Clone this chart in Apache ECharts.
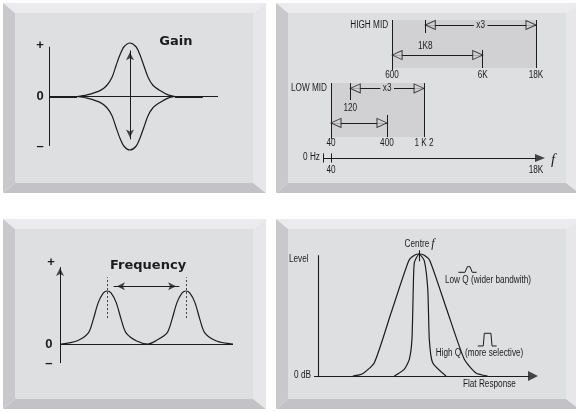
<!DOCTYPE html>
<html><head><meta charset="utf-8">
<script src="https://cdn.jsdelivr.net/npm/echarts@6/dist/echarts.min.js"></script>
<style>html,body{margin:0;padding:0;background:#fff}#c{width:576px;height:412px}</style>
</head><body><div id="c"></div>
<script>
// ---------- Panel 1: Gain (x: frequency units 0-10, y: gain -1..1) ----------
const gainX = [1.66,2.25,3.02,3.43,3.73,3.96,4.20,4.44,4.79,5.15,5.38,5.62,5.86,6.15,6.57,7.04,7.46];
const gainBoost = [0,0.03,0.11,0.21,0.36,0.57,0.78,0.93,1.0,0.93,0.78,0.57,0.36,0.21,0.11,0.03,0];
const gainCentre = 4.79;
const gainSigns = ['+', '0', '–'];
const gainSignLevels = [0.96, 0, -0.94];

// ---------- Panel 2: frequency bands (schematic positions 0-100) ----------
const freqLabels = ['40', '120', '400', '600', '1 K 2', '1K8', '6K', '18K'];
const freqPos = [0, 9.4, 27.3, 29.8, 45.4, 46.0, 74.0, 100];
const bandNames = ['LOW MID', 'HIGH MID'];
const bandStart = ['40', '600'];
const bandTenth = ['400', '6K'];
const bandTriple = ['120', '1K8'];
const bandEnd = ['1 K 2', '18K'];
const bandTop = [54.3, 100];
const bandBottom = [15.2, 65.2];
const bandTripleRow = [50.4, 96.4];
const bandTenthRow = [25.4, 74.6];
const bandTripleTickEnd = [42.0, 90.6];
const bandTenthTickStart = [31.2, 78.3];
const bandTripleLabelRow = [36.2, 81.2];
const bandLabelRow = [10.9, 60.1];
const axisLabels = ['0 Hz', '40', '18K'];

// ---------- Panel 3: Frequency sweep (x 0-10, y level 0-1) ----------
const sweepX = [0.06,0.97,1.64,1.92,2.21,2.50,2.73,2.96,3.25,3.54,3.82,4.43,5.10,5.52,6.19,6.47,6.76,7.05,7.28,7.51,7.80,8.09,8.37,9.04,10.0];
const sweepLevel = [0,0.057,0.21,0.46,0.78,0.96,1.0,0.96,0.78,0.46,0.21,0.057,0,0.057,0.21,0.46,0.78,0.96,1.0,0.96,0.78,0.46,0.21,0.057,0];
const sweepPeaks = [2.73, 7.28];

// ---------- Panel 4: Q (x 0-10, y level 0-1) ----------
const lowQX = [1.58,2.03,2.56,3.32,4.12,4.38,4.60,4.83,5.09,5.86,6.65,7.18,7.71];
const lowQY = [0,0.019,0.109,0.516,0.943,0.989,1.0,0.989,0.943,0.541,0.137,0.025,0];
const highQX = [3.47,3.92,4.15,4.27,4.33,4.38,4.60,4.83,4.99,5.06,5.21,5.82];
const highQY = [0,0.055,0.137,0.30,0.71,0.93,1.0,0.945,0.71,0.30,0.109,0];
const lowIconX = [6.38,6.68,6.79,6.91,7.01,7.21];
const lowIconY = [0.85,0.85,0.896,0.896,0.85,0.85];
const highIconX = [7.26,7.51,7.56,7.86,7.91,8.12];
const highIconY = [0.246,0.246,0.35,0.35,0.246,0.246];
const qCentre = 4.6;

// ---------- helpers ----------
const INK = '#1c1c1c';
const NARROW = '10px "Liberation Sans", Arial, sans-serif';
const SHADE = '#d1d1d4';
const pos = l => freqPos[freqLabels.indexOf(l)];

function segs(g, list, width, extra) {
  return {type:'lines', coordinateSystem:'cartesian2d', xAxisIndex:g, yAxisIndex:g, polyline:false,
    silent:true, clip:false, z:3,
    lineStyle:Object.assign({color:INK, width:width, opacity:1, curveness:0}, extra || {}),
    data:list.map(c => ({coords:c}))};
}
function curve(g, xs, ys, width, smooth) {
  return {type:'line', xAxisIndex:g, yAxisIndex:g, data:xs.map((x,i) => [x, ys[i]]),
    showSymbol:false, symbol:'none', smooth:smooth, clip:false, silent:true, z:4,
    lineStyle:{color:INK, width:width}};
}
function heads(g, list, symbol, size, fill, border) {
  const rot = {up:0, left:90, down:180, right:-90};
  const h = size[1] / 2;
  const off = {up:[0,h], down:[0,-h], left:[h,0], right:[-h,0]};
  return {type:'scatter', xAxisIndex:g, yAxisIndex:g, silent:true, clip:false, z:5,
    data:list.map(a => ({value:[a[0], a[1]], symbol:symbol, symbolSize:size,
      symbolRotate:rot[a[2]], symbolOffset:off[a[2]]})),
    itemStyle:{color:fill, borderColor:border || fill, borderWidth:border ? 1 : 0}};
}
// text marks placed through the axes; narrow text is condensed horizontally
function texts(g, list, opt) {
  opt = opt || {};
  return {type:'custom', coordinateSystem:'cartesian2d', xAxisIndex:g, yAxisIndex:g, silent:true, z:6,
    data:list.map(t => [t[1], t[2]]),
    renderItem:function (params, api) {
      const p = api.coord([api.value(0), api.value(1)]);
      const t = list[params.dataIndex];
      const style = {text:t[0], align:opt.align || 'center', verticalAlign:'middle', fill:INK,
        font:opt.font || NARROW};
      if (opt.bg) { style.backgroundColor = opt.bg; style.padding = [0, 3]; }
      return {type:'text', x:p[0] + (opt.dx || 0), y:p[1], scaleX:opt.scaleX == null ? 0.82 : opt.scaleX, style:style};
    }};
}
function frame(x0, y0, x1, y1) {
  const t = 10, l = 12, b = 10, r = 13;
  return [
    {type:'polygon', z:0, silent:true, shape:{points:[[x0,y0],[x1,y0],[x1-r,y0+t],[x0+l,y0+t]]}, style:{fill:'#ebebed'}},
    {type:'polygon', z:0, silent:true, shape:{points:[[x1,y0],[x1,y1],[x1-r,y1-b],[x1-r,y0+t]]}, style:{fill:'#e7e7e9'}},
    {type:'polygon', z:0, silent:true, shape:{points:[[x0,y1],[x0+l,y1-b],[x1-r,y1-b],[x1,y1]]}, style:{fill:'#c3c3c7'}},
    {type:'polygon', z:0, silent:true, shape:{points:[[x0,y0],[x0+l,y0+t],[x0+l,y1-b],[x0,y1]]}, style:{fill:'#c9c9cd'}},
    {type:'rect', z:0, silent:true, shape:{x:x0+l, y:y0+t, width:x1-r-x0-l, height:y1-b-y0-t}, style:{fill:'#dedfe1'}}
  ];
}
const SIGN = {font:'bold 13px "Liberation Sans", Arial, sans-serif', scaleX:1};
const TITLE = {font:'bold 13px "DejaVu Sans", sans-serif', scaleX:1};

const series = [];

// Panel 1
series.push(curve(0, gainX, gainBoost, 1.2, 0.3));
series.push(curve(0, gainX, gainBoost.map(v => -v), 1.2, 0.3));
series.push(segs(0, [[[0,-0.925],[0,0.93]], [[0,0],[10,0]], [[gainCentre,-0.8],[gainCentre,0.86]]], 1));
series.push(segs(0, [[[0,0],[gainX[0],0]], [[gainX[gainX.length-1],0],[9.1,0]]], 2));
series.push(heads(0, [[gainCentre,0.9,'up'], [gainCentre,-0.84,'down']], 'arrow', [6,8], INK));
series.push(texts(0, gainSigns.map((s,i) => [s, -0.53, gainSignLevels[i]]), SIGN));
series.push(texts(0, [['Gain', 7.51, 1.03]], TITLE));

// Panel 2
const p2segs = [], p2heads = [], p2names = [], p2labels = [], p2x3 = [];
bandNames.forEach((n, b) => {
  const s = pos(bandStart[b]), e = pos(bandEnd[b]), t = pos(bandTenth[b]), tr = pos(bandTriple[b]);
  p2segs.push([[s, bandTop[b]], [s, bandBottom[b] - 1.4]]);
  p2segs.push([[e, bandTop[b]], [e, bandBottom[b]]]);
  p2segs.push([[tr, bandTop[b]], [tr, bandTripleTickEnd[b]]]);
  p2segs.push([[t, bandTenthTickStart[b]], [t, bandBottom[b]]]);
  p2segs.push([[tr, bandTripleRow[b]], [e, bandTripleRow[b]]]);
  p2segs.push([[s, bandTenthRow[b]], [t, bandTenthRow[b]]]);
  p2heads.push([tr, bandTripleRow[b], 'left'], [e, bandTripleRow[b], 'right'],
               [s, bandTenthRow[b], 'left'], [t, bandTenthRow[b], 'right']);
  p2names.push([n, s, bandTripleRow[b]]);
  p2labels.push([bandStart[b], s, bandLabelRow[b]], [bandTenth[b], t, bandLabelRow[b]],
                [bandEnd[b], e, bandLabelRow[b]], [bandTriple[b], tr, bandTripleLabelRow[b]]);
  p2x3.push(['x3', (tr + e) / 2, bandTripleRow[b]]);
});
series.push(Object.assign(segs(1, p2segs, 1), {
  markArea:{silent:true, itemStyle:{color:SHADE},
    data:bandNames.map((n,b) => [{coord:[pos(bandStart[b]), bandTop[b]]}, {coord:[pos(bandEnd[b]), bandBottom[b]]}])}
}));
series.push(heads(1, p2heads, 'triangle', [9,10], SHADE, INK));
series.push(texts(1, p2names, {align:'right', dx:-4}));
series.push(texts(1, p2labels));
series.push(texts(1, p2x3, {bg:SHADE}));
// bottom axis
series.push(segs(1, [[[-3.6,0],[100,0]], [[-3.6,-3.3],[-3.6,3.3]], [[0,-3.3],[0,3.3]]], 1));
series.push(heads(1, [[104.4,0,'right']], 'triangle', [8,10], INK));
series.push(texts(1, [[axisLabels[0], -5.4, 0.9]], {align:'right'}));
series.push(texts(1, [[axisLabels[1], 0, -8.7], [axisLabels[2], 100, -8.7]]));
series.push(texts(1, [['f', 108.3, -1.4]], {font:'italic 15px "Liberation Serif", serif', scaleX:1}));

// Panel 3
series.push(curve(2, sweepX, sweepLevel, 1.2, 0.3));
series.push(segs(2, [[[0,-0.36],[0,1.45]], [[0,0],[10,0]], [[3.1,1.09],[6.9,1.09]]], 1));
series.push(segs(2, sweepPeaks.map(p => [[p,0.49],[p,1.26]]), 0.8, {type:[2,2]}));
series.push(heads(2, [[0,1.51,'up'], [3.06,1.09,'left'], [6.94,1.09,'right']], 'arrow', [6,8], INK));
series.push(texts(2, [['+', -0.52, 1.53], ['0', -0.64, 0], ['–', -0.64, -0.36]], SIGN));
series.push(texts(2, [['Frequency', 5.09, 1.47]], TITLE));

// Panel 4
series.push(curve(3, lowQX, lowQY, 1.2, 0.2));
series.push(curve(3, highQX, highQY, 1.2, 0.2));
series.push(curve(3, lowIconX, lowIconY, 1, false));
series.push(curve(3, highIconX, highIconY, 1, false));
series.push(segs(3, [[[0,0],[0,0.99]], [[-0.18,0],[9.6,0]], [[qCentre,0.94],[qCentre,1.03]]], 1.1));
series.push(heads(3, [[10,0,'right']], 'triangle', [10,10], INK));
series.push(texts(3, [['Level', -1.32, 0.96], ['Low Q (wider bandwith)', 5.77, 0.787], ['High Q', 5.35, 0.189],
  ['(more selective)', 6.68, 0.189], ['Flat Response', 6.59, -0.066]], {align:'left'}));
series.push(texts(3, [['0 dB', -0.32, 0.01]], {align:'right'}));
series.push(texts(3, [['Centre', qCentre, 1.08]], {align:'right', dx:10}));
series.push(texts(3, [['f', qCentre, 1.085]], {font:'italic 12px "Liberation Serif", serif', scaleX:1, align:'left', dx:12}));

const option = {
  backgroundColor:'#ffffff',
  animation:false,
  graphic:{elements:[].concat(frame(3,3,266,193), frame(276,3,579,193), frame(3,219,266,409), frame(276,219,579,409))},
  grid:[
    {left:49, top:43, width:169, height:107},
    {left:331, top:20, width:205, height:138},
    {left:60, top:291, width:173, height:53},
    {left:318, top:254, width:220, height:122}
  ],
  xAxis:[
    {gridIndex:0, type:'value', min:0, max:10, show:false},
    {gridIndex:1, type:'value', min:0, max:100, show:false},
    {gridIndex:2, type:'value', min:0, max:10, show:false},
    {gridIndex:3, type:'value', min:0, max:10, show:false}
  ],
  yAxis:[
    {gridIndex:0, type:'value', min:-1, max:1, show:false},
    {gridIndex:1, type:'value', min:0, max:100, show:false},
    {gridIndex:2, type:'value', min:0, max:1, show:false},
    {gridIndex:3, type:'value', min:0, max:1, show:false}
  ],
  series:series
};
const chart = echarts.init(document.getElementById('c'), null, {renderer:'canvas'});
chart.setOption(option);
</script></body></html>
